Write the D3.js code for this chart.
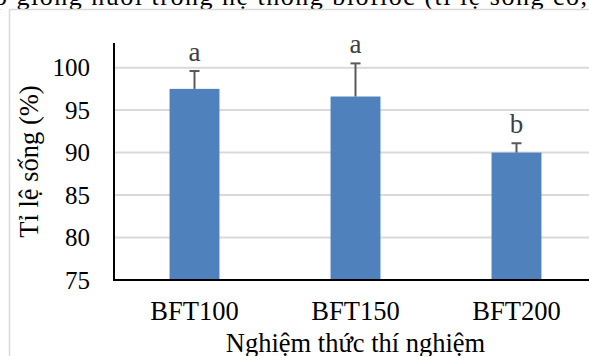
<!DOCTYPE html>
<html>
<head>
<meta charset="utf-8">
<script src="https://cdn.jsdelivr.net/npm/d3@7"></script>
<style>
  body { margin: 0; background: #fff; }
  svg { display: block; font-family: "Liberation Serif", "Times New Roman", serif; }
</style>
</head>
<body>
<svg id="chart" width="589" height="356"></svg>
<script>

const categories = ["BFT100", "BFT150", "BFT200"];
const survival = [97.5, 96.6, 90.0];
const errors = [2.1, 3.9, 1.1];
const letters = ["a", "a", "b"];
const yTicks = [75, 80, 85, 90, 95, 100];

const svg = d3.select("#chart");
const svgWidth = 589, svgHeight = 356;

// caption text cut off by the crop, only its lower half shows
svg.append("text")
    .attr("x", -6)
    .attr("y", 5)
    .attr("font-size", 26)
    .attr("textLength", 593)
    .attr("lengthAdjust", "spacing")
    .attr("fill", "#000")
    .text("p giống nuôi trong hệ thống biofloc (tỉ lệ sống có,");

// chart frame
svg.append("rect")
    .attr("x", 9.5)
    .attr("y", 9.5)
    .attr("width", 700)
    .attr("height", 500)
    .attr("fill", "#fff")
    .attr("stroke", "#d9d9d9")
    .attr("stroke-width", 1.5);

let plotLeft = 114, plotRight = 597, plotTop = 43, plotBottom = 280;

let x = d3.scaleBand()
    .domain(categories)
    .range([plotLeft, plotRight])
    .paddingInner(0.69)
    .paddingOuter(0.345);

let y = d3.scaleLinear()
    .domain([75, 102.9])
    .range([plotBottom, plotTop]);

// gridlines
svg.append("g")
    .selectAll("line")
    .data(yTicks.slice(1))
    .enter()
    .append("line")
    .attr("x1", plotLeft)
    .attr("x2", svgWidth)
    .attr("y1", d => y(d))
    .attr("y2", d => y(d))
    .attr("stroke", "#d9d9d9")
    .attr("stroke-width", 2);

// bars
svg.append("g")
    .selectAll("rect")
    .data(survival)
    .enter()
    .append("rect")
    .attr("x", (d, i) => x(categories[i]))
    .attr("y", d => y(d))
    .attr("width", x.bandwidth())
    .attr("height", d => plotBottom - y(d))
    .attr("fill", "#4f81bd");

// error bars (upper only)
let errG = svg.append("g")
    .attr("stroke", "#595959")
    .attr("stroke-width", 2);

survival.forEach(function(d, i) {
  let cx = x(categories[i]) + x.bandwidth() / 2;
  errG.append("line")
      .attr("x1", cx).attr("x2", cx)
      .attr("y1", y(d)).attr("y2", y(d + errors[i]));
  errG.append("line")
      .attr("x1", cx - 5).attr("x2", cx + 5)
      .attr("y1", y(d + errors[i])).attr("y2", y(d + errors[i]));
});

// significance letters
svg.append("g")
    .selectAll("text")
    .data(letters)
    .enter()
    .append("text")
    .attr("x", (d, i) => x(categories[i]) + x.bandwidth() / 2)
    .attr("y", (d, i) => y(survival[i] + errors[i]) - 10)
    .attr("text-anchor", "middle")
    .attr("font-size", 27)
    .attr("fill", "#404040")
    .text(d => d);

// y axis
let yAxis = d3.axisLeft(y)
    .tickValues(yTicks)
    .tickSize(0)
    .tickPadding(24);

let yG = svg.append("g")
    .attr("transform", "translate(" + plotLeft + ",0)")
    .call(yAxis);
yG.select(".domain").attr("stroke", "#000").attr("stroke-width", 2)
    .attr("d", "M0," + plotTop + "V" + (plotBottom + 1));
yG.selectAll("text")
    .attr("font-family", "Liberation Serif")
    .attr("font-size", 25)
    .attr("fill", "#000");

// x axis
let xAxis = d3.axisBottom(x)
    .tickSize(0)
    .tickPadding(21);

let xG = svg.append("g")
    .attr("transform", "translate(0," + plotBottom + ")")
    .call(xAxis);
xG.select(".domain").attr("stroke", "#000").attr("stroke-width", 2)
    .attr("d", "M" + (plotLeft - 1) + ",0H" + svgWidth);
xG.selectAll("text")
    .attr("font-family", "Liberation Serif")
    .attr("font-size", 26.5)
    .attr("fill", "#000");

// axis titles
svg.append("text")
    .attr("x", (plotLeft + plotRight) / 2)
    .attr("y", 352)
    .attr("text-anchor", "middle")
    .attr("font-size", 26.5)
    .text("Nghiệm thức thí nghiệm");

svg.append("text")
    .attr("transform", "translate(38," + (plotTop + plotBottom) / 2 + ") rotate(-90)")
    .attr("text-anchor", "middle")
    .attr("font-size", 26.5)
    .text("Tỉ lệ sống (%)");

</script>
</body>
</html>
